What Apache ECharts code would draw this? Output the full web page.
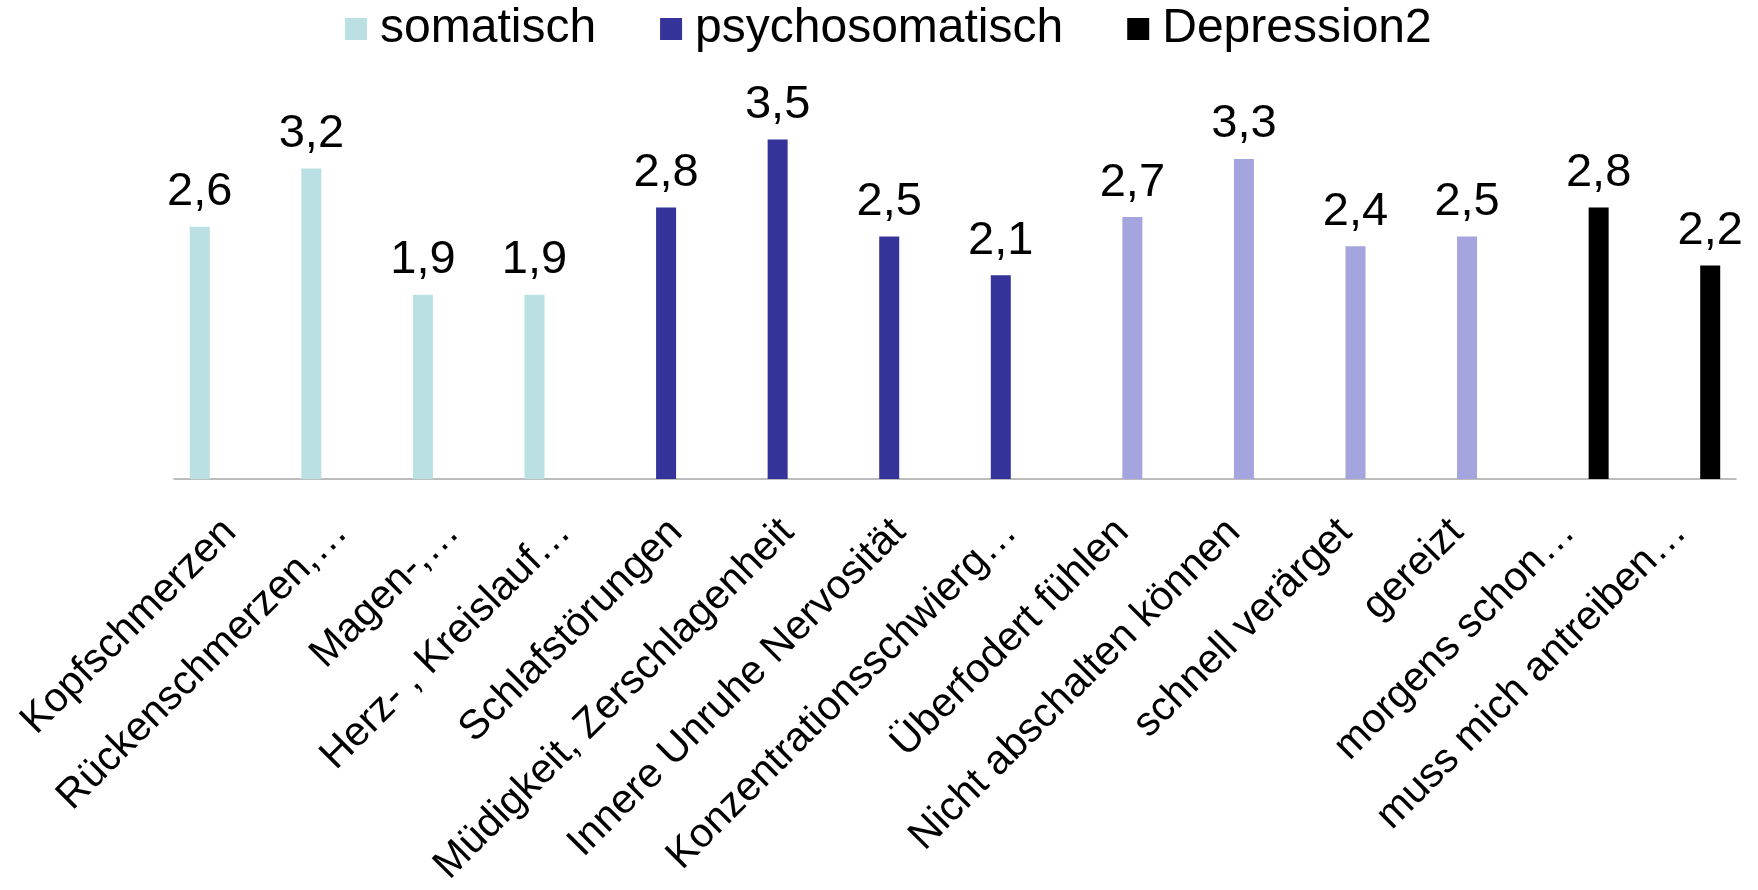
<!DOCTYPE html>
<html>
<head>
<meta charset="utf-8">
<script src="https://cdn.jsdelivr.net/npm/echarts@6/dist/echarts.min.js"></script>
<style>
  html, body { margin: 0; padding: 0; background: #ffffff; }
  #chart { width: 1758px; height: 890px; }
</style>
</head>
<body>
<div id="chart"></div>
<script>
// Symptom categories along the x axis
const categories = [
  'Kopfschmerzen', 'Rückenschmerzen,…', 'Magen-,…', 'Herz- , Kreislauf…',
  'Schlafstörungen', 'Müdigkeit, Zerschlagenheit', 'Innere Unruhe Nervosität', 'Konzentrationsschwierg…',
  'Überfodert fühlen', 'Nicht abschalten können', 'schnell verärget', 'gereizt',
  'morgens schon…', 'muss mich antreiben…'
];

// Mean ratings per group (null where the group has no entry)
const somatisch       = [2.6, 3.2, 1.9, 1.9, null, null, null, null, null, null, null, null, null, null];
const psychosomatisch = [null, null, null, null, 2.8, 3.5, 2.5, 2.1, null, null, null, null, null, null];
const belastung       = [null, null, null, null, null, null, null, null, 2.7, 3.3, 2.4, 2.5, null, null];
const depression2     = [null, null, null, null, null, null, null, null, null, null, null, null, 2.8, 2.2];

const FONT = "'Liberation Sans', Arial, sans-serif";

function barSeries(name, data, color) {
  return {
    name: name,
    type: 'bar',
    data: data,
    barWidth: 20,
    barGap: '0%',
    itemStyle: { color: color },
    label: {
      show: true,
      position: 'top',
      distance: 11,
      fontFamily: FONT,
      fontSize: 47,
      color: '#000000',
      formatter: p => (p.value == null ? '' : p.value.toFixed(1).replace('.', ','))
    }
  };
}

const chart = echarts.init(document.getElementById('chart'), null, { renderer: 'canvas' });
chart.setOption({
  backgroundColor: '#ffffff',
  animation: false,
  textStyle: { fontFamily: FONT },
  legend: {
    data: ['somatisch', 'psychosomatisch', 'Depression2'],
    top: 5,
    left: 345,
    padding: 0,
    itemWidth: 22,
    itemHeight: 22,
    itemGap: 64,
    icon: 'rect',
    textStyle: { fontFamily: FONT, fontSize: 48, color: '#000000', padding: [0, 0, 0, 8] }
  },
  grid: {
    left: 174, right: 22, top: 91, bottom: 411,
    containLabel: false,
    outerBoundsMode: 'none'
  },
  xAxis: {
    type: 'category',
    data: categories,
    axisTick: { show: false },
    axisLine: { lineStyle: { color: '#A6A6A6', width: 1.5 } },
    axisLabel: {
      interval: 0,
      rotate: 45,
      margin: 47,
      fontFamily: FONT,
      fontSize: 41,
      color: '#000000'
    }
  },
  yAxis: {
    type: 'value',
    min: 0,
    max: 4,
    show: false
  },
  series: [
    barSeries('somatisch', somatisch, '#BAE0E3'),
    barSeries('psychosomatisch', psychosomatisch, '#333399'),
    barSeries('', belastung, '#A4A4DE'),
    barSeries('Depression2', depression2, '#000000')
  ]
});
</script>
</body>
</html>
